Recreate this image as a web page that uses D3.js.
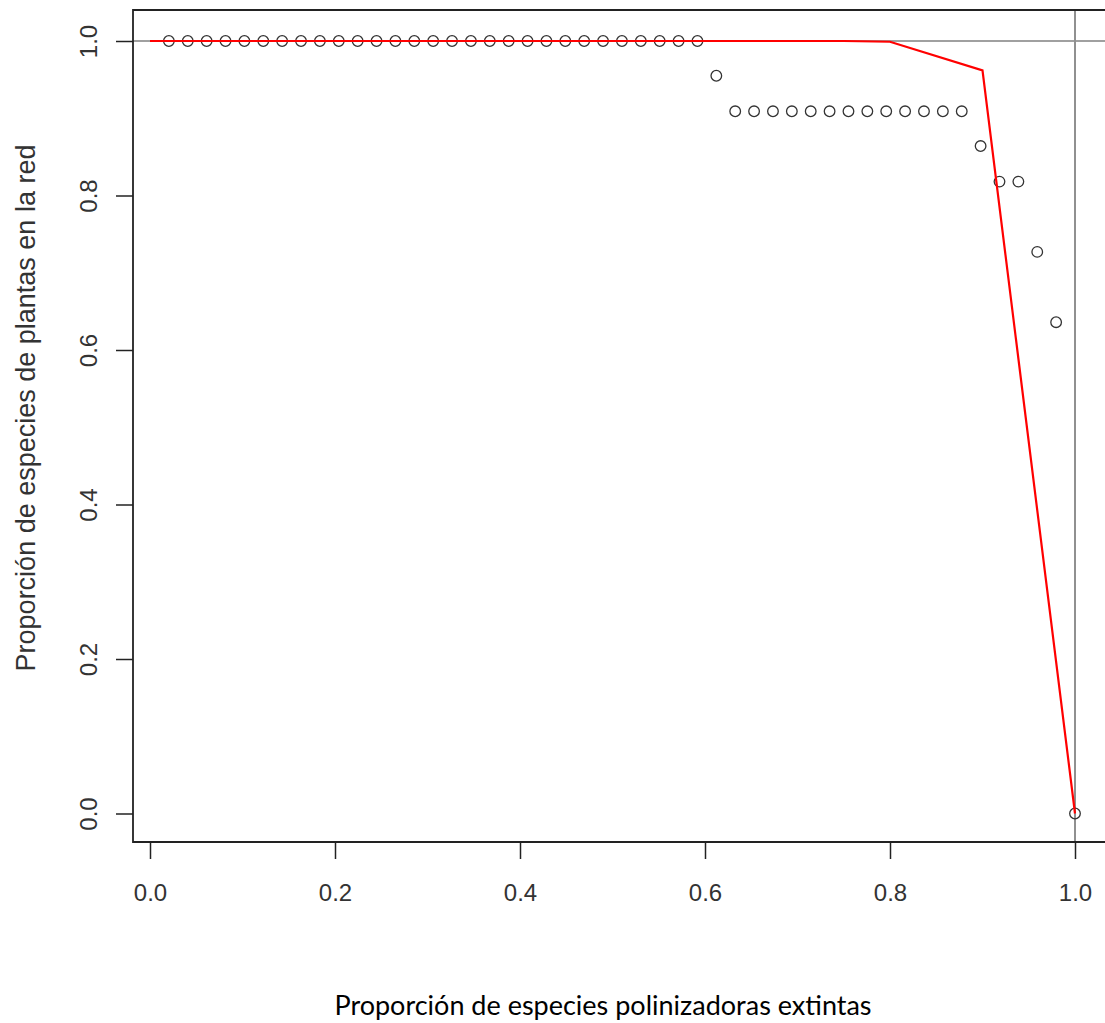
<!DOCTYPE html>
<html lang="es">
<head>
  <meta charset="UTF-8" />
  <title>Proporción de especies de plantas en la red</title>
  <script src="https://d3js.org/d3.v7.min.js"></script>
  <style>
    body { margin: 0; background: #fff; }
    svg { display: block; }
    .tick text { font-family: "Liberation Sans", Arial, sans-serif; font-size: 24px; fill: #333; }
    .tick line { stroke: #222; stroke-width: 1.5; }
  </style>
</head>
<body>
  <div id="chart"></div>
  <script>
    // fraction of pollinators removed (i / 49)
    const extinct = d3.range(1, 50).map(i => i / 49);
    // fraction of plant species still in the network
    const plants = [
      1, 1, 1, 1, 1, 1, 1, 1, 1, 1,
      1, 1, 1, 1, 1, 1, 1, 1, 1, 1,
      1, 1, 1, 1, 1, 1, 1, 1, 1,
      0.955,
      0.909, 0.909, 0.909, 0.909, 0.909, 0.909, 0.909,
      0.909, 0.909, 0.909, 0.909, 0.909, 0.909,
      0.864, 0.818, 0.818, 0.727, 0.636, 0
    ];
    // red fitted curve
    const curveX = [0, 0.75, 0.8, 0.9, 1.0];
    const curveY = [1, 1, 0.999, 0.962, 0];
    const xTicks = [0, 0.2, 0.4, 0.6, 0.8, 1.0];
    const yTicks = [0, 0.2, 0.4, 0.6, 0.8, 1.0];

    const width = 1105, height = 1023;
    const box = { left: 133, top: 10, bottom: 842 };

    const x = d3.scaleLinear().domain([0, 1]).range([150, 1075]);
    const y = d3.scaleLinear().domain([0, 1]).range([813.5, 41]);

    const svg = d3.select("#chart").append("svg")
      .attr("width", width)
      .attr("height", height);

    // reference lines (abline h = 1, v = 1)
    svg.append("line")
      .attr("x1", box.left).attr("x2", width)
      .attr("y1", y(1)).attr("y2", y(1))
      .attr("stroke", "#a0a0a0").attr("stroke-width", 2);
    svg.append("line")
      .attr("x1", x(1)).attr("x2", x(1))
      .attr("y1", box.top).attr("y2", box.bottom)
      .attr("stroke", "#909090").attr("stroke-width", 2);

    // points
    svg.append("g")
      .selectAll("circle")
      .data(extinct.map((d, i) => [d, plants[i]]))
      .join("circle")
      .attr("cx", d => x(d[0]))
      .attr("cy", d => y(d[1]))
      .attr("r", 5.3)
      .attr("fill", "none")
      .attr("stroke", "#333")
      .attr("stroke-width", 1.3);

    // red line
    const line = d3.line().x(d => x(d[0])).y(d => y(d[1]));
    svg.append("path")
      .datum(curveX.map((d, i) => [d, curveY[i]]))
      .attr("d", line)
      .attr("fill", "none")
      .attr("stroke", "#ff0000")
      .attr("stroke-width", 2.2);

    // plot box
    svg.append("path")
      .attr("d", `M${width + 5},${box.top}H${box.left}V${box.bottom}H${width + 5}`)
      .attr("fill", "none")
      .attr("stroke", "#222")
      .attr("stroke-width", 1.8);

    // axes
    const xAxis = svg.append("g")
      .attr("transform", `translate(0,${box.bottom})`)
      .call(d3.axisBottom(x).tickValues(xTicks).tickSize(17).tickFormat(d3.format(".1f")));
    xAxis.select(".domain").remove();
    xAxis.selectAll(".tick text").attr("y", 50).attr("dy", "0.36em");

    const yAxis = svg.append("g")
      .attr("transform", `translate(${box.left},0)`)
      .call(d3.axisLeft(y).tickValues(yTicks).tickSize(17).tickFormat(d3.format(".1f")));
    yAxis.select(".domain").remove();
    yAxis.selectAll(".tick text")
      .attr("x", 0).attr("dy", "0.36em")
      .attr("text-anchor", "middle")
      .attr("transform", "translate(-45,0) rotate(-90)");

    // titles
    svg.append("text")
      .attr("transform", "translate(25,408) rotate(-90)")
      .attr("dy", "0.36em")
      .attr("text-anchor", "middle")
      .attr("font-family", "'Liberation Sans', Arial, sans-serif")
      .attr("font-size", 27)
      .attr("fill", "#333")
      .text("Proporción de especies de plantas en la red");

    svg.append("text")
      .attr("x", 603)
      .attr("y", 1005)
      .attr("dy", "0.36em")
      .attr("text-anchor", "middle")
      .attr("font-family", "Lato, 'Open Sans', sans-serif")
      .attr("font-size", 27)
      .attr("fill", "#000")
      .text("Proporción de especies polinizadoras extintas");
  </script>
</body>
</html>
